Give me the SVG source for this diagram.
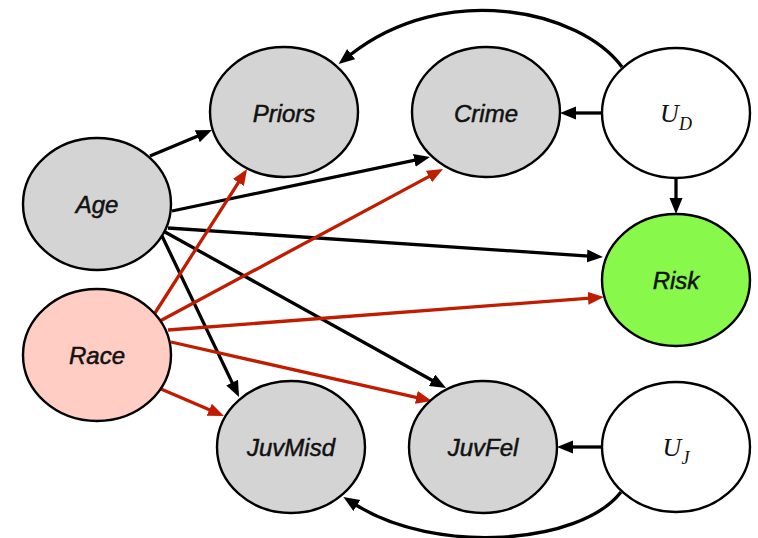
<svg xmlns="http://www.w3.org/2000/svg" width="758" height="538" viewBox="0 0 758 538">
  <style>
    .node { stroke: #000; stroke-width: 2.4; }
    .obs { fill: #d4d4d4; }
    .prot { fill: #ffcdc3; }
    .out { fill: #88f84b; }
    .lat { fill: #fff; }
    .lbl { font-family: "Liberation Sans", Arial, sans-serif; font-style: italic; font-size: 24px; text-anchor: middle; fill: #111; stroke: #111; stroke-width: 0.5; }
    .math { font-family: "Liberation Serif", "Times New Roman", serif; font-style: italic; font-size: 26px; text-anchor: middle; fill: #111; }
    .sub { font-size: 18px; }
    .e { fill: none; stroke-width: 3.3; }
    .k { stroke: #000; marker-end: url(#ak); }
    .r { stroke: #bf1c00; marker-end: url(#ar); }
  </style>
  <defs>
    <marker id="ak" markerUnits="userSpaceOnUse" markerWidth="18" markerHeight="14" refX="2" refY="6.5" orient="auto">
      <path d="M0,0 L16,6.5 L0,13 Z" fill="#000"/>
    </marker>
    <marker id="ar" markerUnits="userSpaceOnUse" markerWidth="18" markerHeight="14" refX="2" refY="6.5" orient="auto">
      <path d="M0,0 L16,6.5 L0,13 Z" fill="#bf1c00"/>
    </marker>
  </defs>

  <g id="connectors">
    <!-- Age edges -->
    <line class="e k" x1="150" y1="156" x2="199.1" y2="135.4"/>
    <line class="e k" x1="172" y1="211" x2="416.3" y2="159.9"/>
    <line class="e k" x1="168" y1="228" x2="589" y2="256.1"/>
    <line class="e k" x1="162" y1="236" x2="233" y2="384.4"/>
    <line class="e k" x1="165" y1="232" x2="433.8" y2="381.2"/>
    <!-- Race edges -->
    <line class="e r" x1="155" y1="313" x2="239.5" y2="180.8"/>
    <line class="e r" x1="160" y1="321" x2="430.7" y2="175.6"/>
    <line class="e r" x1="168" y1="330" x2="590" y2="298.1"/>
    <line class="e r" x1="171" y1="342" x2="418.3" y2="397.9"/>
    <line class="e r" x1="161" y1="389" x2="211.1" y2="410.5"/>
    <!-- latent edges -->
    <line class="e k" x1="602" y1="113" x2="574" y2="113"/>
    <line class="e k" x1="676" y1="178" x2="676" y2="200"/>
    <line class="e k" x1="602" y1="447" x2="571" y2="447"/>
    <path class="e k" d="M622,67 C580,10 445,-20 349.6,55.3"/>
    <path class="e k" d="M621,492 C580,545 435,555 355.2,504.5"/>
  </g>

  <g id="priors">
    <ellipse class="node obs" cx="284" cy="112" rx="74" ry="65"/>
    <text class="lbl" x="284" y="122">Priors</text>
  </g>
  <g id="crime">
    <ellipse class="node obs" cx="486" cy="112" rx="74" ry="65"/>
    <text class="lbl" x="486" y="122">Crime</text>
  </g>
  <g id="ud">
    <ellipse class="node lat" cx="676" cy="113" rx="74" ry="65"/>
    <text class="math" x="676" y="122">U<tspan class="sub" dy="8">D</tspan></text>
  </g>
  <g id="age">
    <ellipse class="node obs" cx="97" cy="204" rx="74" ry="66"/>
    <text class="lbl" x="97" y="213">Age</text>
  </g>
  <g id="risk">
    <ellipse class="node out" cx="676" cy="280" rx="74" ry="66"/>
    <text class="lbl" x="676" y="289">Risk</text>
  </g>
  <g id="race">
    <ellipse class="node prot" cx="97" cy="355" rx="74" ry="66"/>
    <text class="lbl" x="97" y="364">Race</text>
  </g>
  <g id="juvmisd">
    <ellipse class="node obs" cx="291" cy="447" rx="74" ry="66"/>
    <text class="lbl" x="291" y="456">JuvMisd</text>
  </g>
  <g id="juvfel">
    <ellipse class="node obs" cx="483" cy="447" rx="74" ry="66"/>
    <text class="lbl" x="483" y="456">JuvFel</text>
  </g>
  <g id="uj">
    <ellipse class="node lat" cx="676" cy="447" rx="74" ry="65"/>
    <text class="math" x="676" y="456">U<tspan class="sub" dy="8">J</tspan></text>
  </g>
</svg>
